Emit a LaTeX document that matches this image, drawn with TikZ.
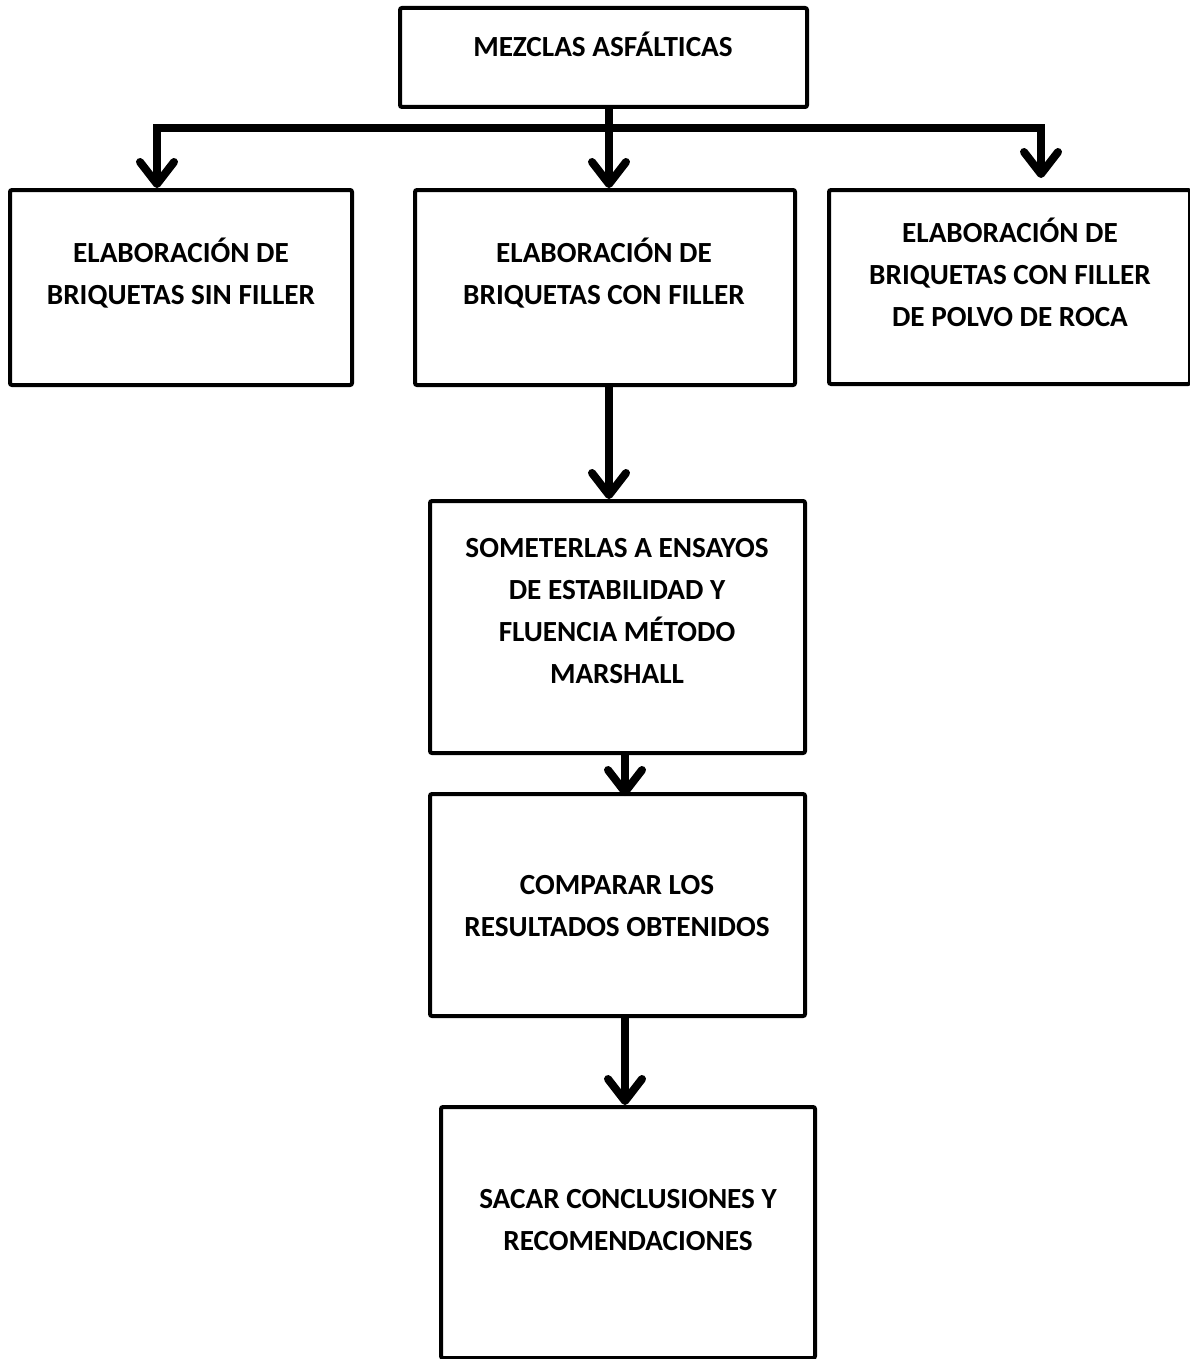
\documentclass[tikz,border=0pt]{standalone}
\usepackage{fontspec}
\setmainfont{Carlito}
\usetikzlibrary{arrows.meta,fit,calc}
\begin{document}
\begin{tikzpicture}[x=0.5pt,y=-0.5pt,
  box/.style={draw=black, line width=2pt, rounded corners=1pt, inner sep=0pt, fill=none},
  txt/.style={font=\bfseries\fontsize{14.6}{21}\selectfont, align=center, inner sep=0pt},
  conn/.style={draw=black, line width=4pt, miter limit=10},
  arr/.style={conn, -{Straight Barb[length=11pt,width=17pt,line cap=round,line join=round]}}]
\useasboundingbox (0,0) rectangle (1189,1359);
% boxes
\node[box, fit={(400,8) (807,107)}] (top) {};
\node[box, fit={(10,190) (352,385)}] (b1) {};
\node[box, fit={(415,190) (795,385)}] (b2) {};
\node[box, fit={(829,190) (1190,384)}] (b3) {};
\node[box, fit={(430,501) (805,753)}] (b4) {};
\node[box, fit={(430,794) (805,1016)}] (b5) {};
\node[box, fit={(441,1107) (815,1358)}] (b6) {};
% texts
\node[txt] (ttop) at (603,44) {MEZCLAS ASFÁLTICAS};
\node[txt] (t1) at (181,273) {ELABORACIÓN DE\\BRIQUETAS SIN FILLER};
\node[txt] (t2) at (604,273) {ELABORACIÓN DE\\BRIQUETAS CON FILLER};
\node[txt] (t3) at (1010,272) {ELABORACIÓN DE\\BRIQUETAS CON FILLER\\DE POLVO DE ROCA};
\node[txt] (t4) at (617,611) {SOMETERLAS A ENSAYOS\\DE ESTABILIDAD Y\\FLUENCIA MÉTODO\\MARSHALL};
\node[txt] (t5) at (617,906) {COMPARAR LOS\\RESULTADOS OBTENIDOS};
\node[txt] (t6) at (628,1220) {SACAR CONCLUSIONES Y\\RECOMENDACIONES};
% connector coordinates
\coordinate (jl) at (157,128);
\coordinate (jr) at (1041,128);
\coordinate (e3) at (1041,178);
\coordinate (xa) at (609,0);
\coordinate (xb) at (625,0);
% connectors
\draw[arr] (jr) -- (jl) -- (jl |- b1.north);
\draw[arr] (jl) -- (jr) -- (e3);
\draw[arr] (top.south -| xa) -- (b2.north -| xa);
\draw[arr] (b2.south -| xa) -- (b4.north -| xa);
\draw[arr] (b4.south -| xb) -- ($(b5.north -| xb)+(0,4)$);
\draw[arr] (b5.south -| xb) -- (b6.north -| xb);
\end{tikzpicture}
\end{document}
